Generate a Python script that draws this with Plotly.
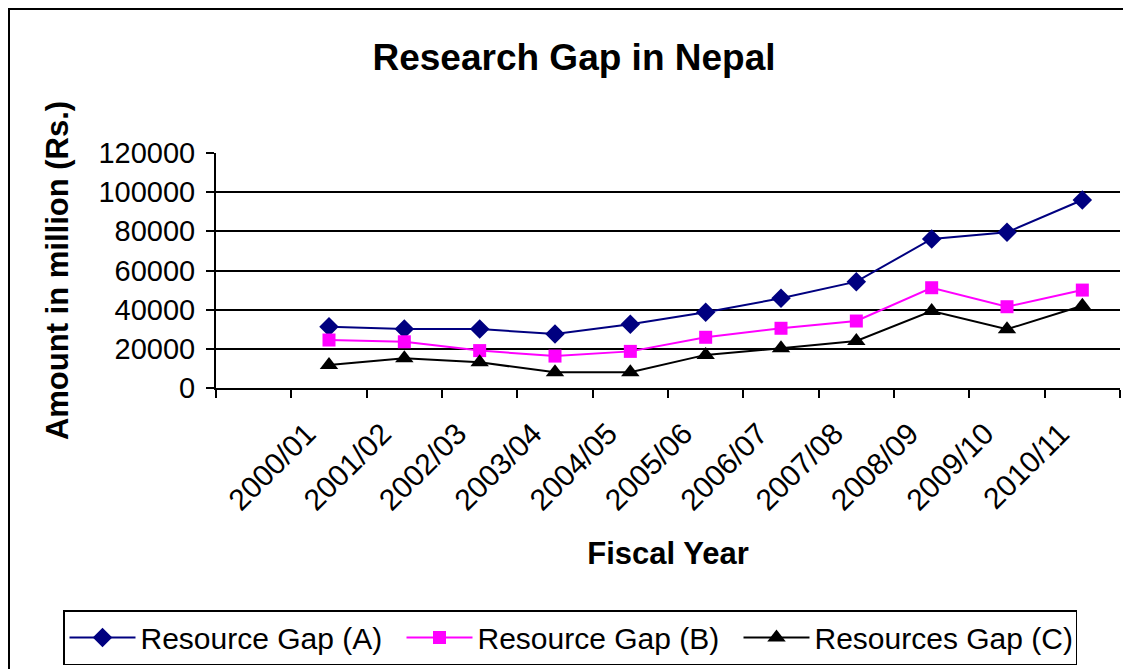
import plotly.graph_objects as go

years = ["2000/01", "2001/02", "2002/03", "2003/04", "2004/05", "2005/06",
         "2006/07", "2007/08", "2008/09", "2009/10", "2010/11"]
gap_a = [31300, 30100, 30100, 27600, 32500, 38700, 45800, 54300, 76100, 79500, 96000]
gap_b = [24500, 23600, 19100, 16300, 18700, 25900, 30500, 34200, 51200, 41500, 50000]
gap_c = [11700, 15200, 13100, 8000, 8000, 16900, 20300, 24000, 39300, 30000, 42000]
y_ticks = [0, 20000, 40000, 60000, 80000, 100000, 120000]

FONT = "Liberation Sans, Arial, sans-serif"
# page body has an 8px margin; figure sized to fill the rest of the window
OFF = 8
W, H = 1131 - OFF, 669 - OFF
ML, MT = 216 - OFF, 153 - OFF
MR = W - (1120 - OFF)
MB = H - (388 - OFF)
pw = W - ML - MR
ph = H - MT - MB

fig = go.Figure()
fig.add_trace(go.Scatter(x=years, y=gap_a, mode="lines+markers", name="Resource Gap (A)",
                         line=dict(color="#000080", width=2),
                         marker=dict(symbol="diamond", size=15, color="#000080")))
fig.add_trace(go.Scatter(x=years, y=gap_b, mode="lines+markers", name="Resource Gap (B)",
                         line=dict(color="#FF00FF", width=2),
                         marker=dict(symbol="square", size=13, color="#FF00FF")))
fig.add_trace(go.Scatter(x=years, y=gap_c, mode="lines+markers", name="Resources Gap (C)",
                         line=dict(color="#000000", width=2),
                         marker=dict(symbol="triangle-up", size=16, color="#000000")))

def px_to_paper_x(px):
    return (px - OFF - ML) / pw

def px_to_paper_y(py):
    return (H - MB - (py - OFF)) / ph

fig.update_layout(
    width=W, height=H,
    margin=dict(l=ML, r=MR, t=MT, b=MB, autoexpand=False),
    paper_bgcolor="white", plot_bgcolor="white",
    font=dict(family=FONT, color="black"),
    title=dict(text="<b>Research Gap in Nepal</b>", font=dict(size=37, family=FONT),
               x=(574 - OFF) / W, xanchor="center", xref="container",
               y=1 - (57 - OFF) / H, yanchor="middle", yref="container"),
    xaxis=dict(type="category", categoryorder="array", categoryarray=[" "] + years,
               range=[-0.5, 11.5], tickson="boundaries", automargin=False,
               showline=True, linecolor="black", linewidth=2,
               ticks="outside", ticklen=8, tickwidth=2, tickcolor="black",
               showgrid=False, tickangle=-45,
               ticklabelshift=-22, ticklabelstandoff=14,
               tickfont=dict(size=30, family=FONT),
               title=dict(text="<b>Fiscal Year</b>", font=dict(size=31, family=FONT), standoff=27)),
    yaxis=dict(range=[0, 120000], tickvals=y_ticks, ticktext=[str(v) for v in y_ticks],
               automargin=False,
               showline=True, linecolor="black", linewidth=2,
               ticks="outside", ticklen=8, tickwidth=2, tickcolor="black",
               ticklabelstandoff=5,
               showgrid=True, gridcolor="black", gridwidth=2, zeroline=False,
               tickfont=dict(size=29, family=FONT),
               title=dict(text="<b>Amount in million (Rs.)</b>", font=dict(size=31, family=FONT), standoff=21)),
    legend=dict(orientation="h", xref="paper", x=px_to_paper_x(63), xanchor="left",
                yref="paper", y=px_to_paper_y(610), yanchor="top",
                bordercolor="black", borderwidth=1.5,
                font=dict(size=30, family=FONT),
                itemwidth=66,
                entrywidth=256, entrywidthmode="pixels"),
    showlegend=True,
    shapes=[dict(type="rect", xref="paper", yref="paper",
                 x0=px_to_paper_x(OFF + 1), x1=px_to_paper_x(1131 + 20),
                 y0=px_to_paper_y(669 + 20), y1=px_to_paper_y(OFF + 1),
                 line=dict(color="black", width=2), layer="below")],
)

fig.write_html("out.html")
